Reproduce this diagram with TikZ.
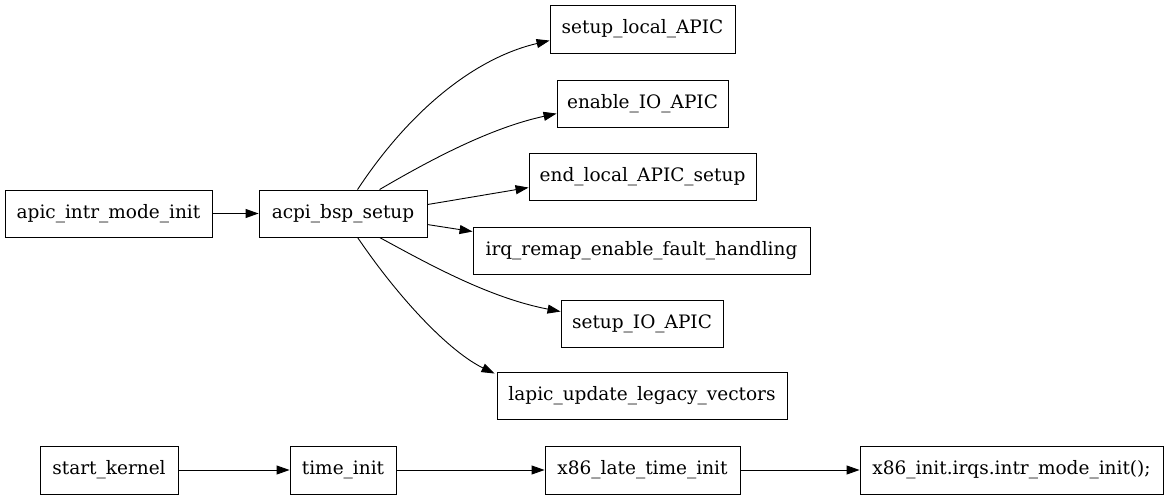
\documentclass[tikz,border=0pt]{standalone}
\usepackage{fontspec}
\setmainfont{DejaVu Serif}
\usetikzlibrary{arrows.meta}
\begin{document}
\begin{tikzpicture}[x=1pt,y=-1pt,
  box/.style={draw=black,line width=0.9pt,inner sep=0pt,font=\fontsize{18.5pt}{20pt}\selectfont},
  edge/.style={draw=black,line width=0.9pt,-{Triangle[length=13pt,width=9pt]}}]
\useasboundingbox (0,0) rectangle (1168,500);
\node[box,minimum width=185pt,minimum height=48pt] (sla) at (642.5,29) {setup\_local\_APIC};
\node[box,minimum width=171pt,minimum height=47pt] (eio) at (642.5,103.5) {enable\_IO\_APIC};
\node[box,minimum width=227pt,minimum height=47pt] (ela) at (642.5,176.5) {end\_local\_APIC\_setup};
\node[box,minimum width=337pt,minimum height=47pt] (irq) at (641.5,250.5) {irq\_remap\_enable\_fault\_handling};
\node[box,minimum width=162pt,minimum height=47pt] (sio) at (642,323.5) {setup\_IO\_APIC};
\node[box,minimum width=290pt,minimum height=47pt] (luv) at (642,395.5) {lapic\_update\_legacy\_vectors};
\node[box,minimum width=207pt,minimum height=47pt] (aim) at (108.5,213.5) {apic\_intr\_mode\_init};
\node[box,minimum width=168pt,minimum height=47pt] (abs) at (343,213.5) {acpi\_bsp\_setup};
\node[box,minimum width=138pt,minimum height=48pt] (sk) at (109,470) {start\_kernel};
\node[box,minimum width=106pt,minimum height=48pt] (ti) at (343,470) {time\_init};
\node[box,minimum width=195pt,minimum height=48pt] (xlt) at (642.5,470) {x86\_late\_time\_init};
\node[box,minimum width=303pt,minimum height=48pt] (xir) at (1011.5,470) {x86\_init.irqs.intr\_mode\_init();};

\draw[edge] (aim) -- (abs);
\draw[edge] ([xshift=99pt]abs.north west) .. controls (410,110) and (475,58) .. ([yshift=-36pt]sla.north west);
\draw[edge] ([xshift=121pt]abs.north west) .. controls (430,160) and (490,128) .. ([yshift=-34pt]eio.north west);
\draw[edge] ([yshift=-15pt]abs.north east) -- ([yshift=-35pt]ela.north west);
\draw[edge] ([yshift=-35pt]abs.north east) -- ([yshift=-5pt]irq.north west);
\draw[edge] ([xshift=121pt]abs.south west) .. controls (430,265) and (490,298) .. ([yshift=-12pt]sio.north west);
\draw[edge] ([xshift=99pt]abs.south west) .. controls (400,300) and (450,352) .. ([xshift=-2pt,yshift=-2pt]luv.north west);
\draw[edge] (sk) -- (ti);
\draw[edge] (ti) -- (xlt);
\draw[edge] (xlt) -- (xir);
\end{tikzpicture}
\end{document}
